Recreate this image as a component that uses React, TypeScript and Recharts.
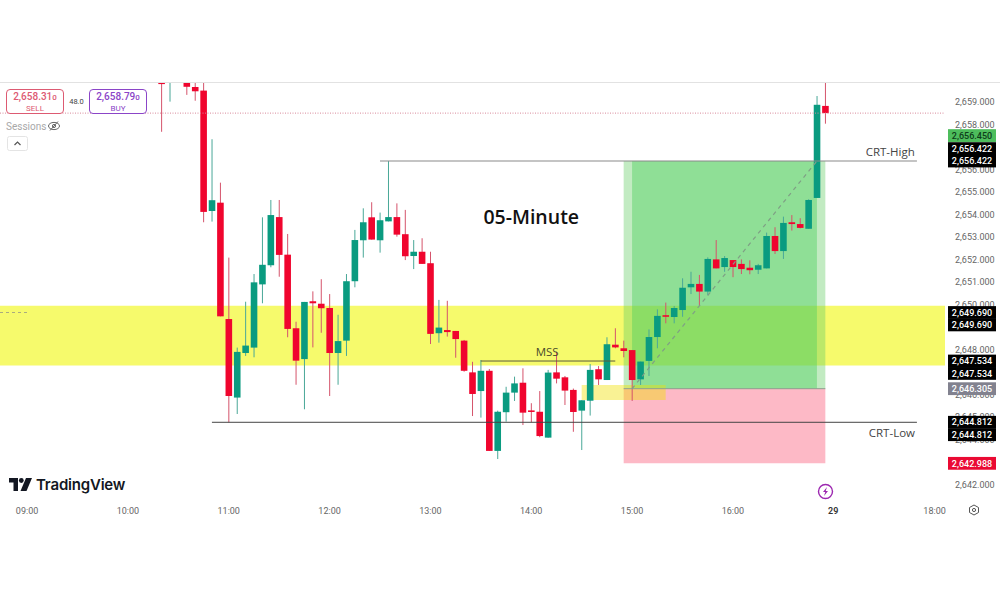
import React from "react";
import {
  ComposedChart,
  Bar,
  XAxis,
  YAxis,
  ReferenceArea,
  ReferenceLine,
  ReferenceDot,
} from "recharts";

// Candle data: time in minutes since midnight, prices in USD
const candleMinutes = [
  620, 625, 630, 635, 640, 645, 650, 655,
  660, 665, 670, 675, 680, 685, 690, 695, 700, 705,
  710, 715, 720, 725, 730, 735, 740, 745, 750, 755,
  760, 765, 770, 775, 780, 785, 790, 795, 800, 805,
  810, 815, 820, 825, 830, 835, 840, 845, 850, 855,
  860, 865, 870, 875, 880, 885, 890, 895, 900, 905,
  910, 915, 920, 925, 930, 935, 940, 945, 950, 955,
  960, 965, 970, 975, 980, 985, 990, 995, 1000, 1005,
  1010, 1015,
];
const opens = [
  2660.11, 2659.91, 2660.1, 2659.93, 2659.71, 2659.55, 2654.2, 2654.57,
  2649.4, 2645.91, 2647.89, 2648.13, 2650.94, 2651.79, 2653.93, 2652.26, 2648.99, 2647.62,
  2650.19, 2650.08, 2649.89, 2647.89, 2648.44, 2651.08, 2652.9, 2653.92, 2652.9, 2653.74,
  2653.93, 2653.17, 2652.2, 2652.39, 2651.88, 2648.77, 2648.91, 2648.87, 2648.44, 2647.03,
  2646.2, 2647.1, 2643.54, 2645.26, 2646.13, 2646.57, 2645.34, 2645.28, 2644.13, 2647.03,
  2646.81, 2646.25, 2645.33, 2645.77, 2647.17, 2646.69, 2648.26, 2648.1, 2648.02, 2646.72,
  2647.54, 2648.6, 2649.57, 2649.49, 2649.8, 2650.81, 2650.96, 2650.62, 2652.05, 2651.71,
  2652.02, 2651.85, 2651.68, 2651.59, 2651.65, 2653.09, 2652.42, 2653.7, 2653.62, 2653.41,
  2654.78, 2658.87,
];
const highs = [
  2660.24, 2660.24, 2660.5, 2660.11, 2660.11, 2660.11, 2657.39, 2655.46,
  2652.13, 2648.13, 2650.17, 2651.4, 2653.92, 2654.69, 2654.69, 2653.18, 2649.28, 2650.16,
  2650.63, 2651.17, 2650.51, 2649.59, 2651.4, 2653.36, 2654.32, 2654.59, 2654.13, 2656.42,
  2654.54, 2654.25, 2652.91, 2652.99, 2652.39, 2650.25, 2650.21, 2648.87, 2648.47, 2647.5,
  2647.58, 2647.18, 2645.33, 2646.39, 2646.84, 2647.21, 2645.66, 2646.2, 2647.14, 2647.95,
  2646.87, 2646.31, 2645.79, 2647.4, 2647.31, 2648.59, 2648.99, 2648.44, 2648.02, 2647.51,
  2648.94, 2649.83, 2650.13, 2649.98, 2651.21, 2651.5, 2651.36, 2652.14, 2652.91, 2652.2,
  2652.02, 2652.05, 2652.01, 2651.85, 2653.24, 2653.48, 2653.95, 2654.02, 2653.88, 2654.72,
  2659.31, 2660.11,
];
const lows = [
  2657.72, 2659.06, 2660.0, 2659.36, 2659.1, 2653.7, 2653.73, 2649.52,
  2644.81, 2645.18, 2647.76, 2647.7, 2650.1, 2651.7, 2651.28, 2648.59, 2646.48, 2645.39,
  2648.14, 2648.79, 2645.98, 2646.48, 2647.76, 2650.81, 2652.13, 2652.93, 2652.35, 2653.74,
  2653.06, 2652.02, 2651.62, 2651.85, 2648.29, 2648.35, 2648.62, 2647.68, 2647.06, 2645.09,
  2645.02, 2643.54, 2643.18, 2644.84, 2645.76, 2644.69, 2644.81, 2644.15, 2644.13, 2646.54,
  2645.58, 2644.39, 2643.58, 2645.11, 2646.47, 2646.69, 2648.1, 2647.7, 2645.76, 2646.47,
  2646.87, 2648.1, 2649.21, 2649.21, 2649.5, 2650.51, 2650.02, 2650.47, 2651.65, 2651.5,
  2651.26, 2651.4, 2651.39, 2651.4, 2651.65, 2652.29, 2652.07, 2653.33, 2653.43, 2653.41,
  2654.78, 2658.08,
];
const closes = [
  2659.84, 2660.07, 2660.3, 2659.72, 2659.52, 2654.16, 2654.68, 2649.52,
  2645.98, 2647.94, 2648.22, 2651.03, 2651.81, 2654.02, 2652.25, 2648.96, 2647.55, 2650.16,
  2650.1, 2649.88, 2647.89, 2648.42, 2651.08, 2652.91, 2653.7, 2652.93, 2653.79, 2653.93,
  2653.15, 2652.19, 2652.39, 2651.85, 2648.74, 2649.02, 2648.82, 2648.51, 2647.1, 2646.07,
  2647.1, 2643.54, 2645.28, 2646.13, 2646.54, 2645.24, 2645.27, 2644.2, 2647.02, 2646.75,
  2646.22, 2645.27, 2645.79, 2647.14, 2646.72, 2648.28, 2648.14, 2647.98, 2646.69, 2647.51,
  2648.6, 2649.54, 2649.5, 2649.89, 2650.79, 2650.96, 2650.62, 2652.07, 2651.65, 2652.11,
  2651.71, 2651.62, 2651.57, 2651.79, 2653.09, 2652.42, 2653.67, 2653.62, 2653.45, 2654.69,
  2658.92, 2658.55,
];

// Ticks wholly covered by a badge in the reference (2643, 2647, 2649, 2657) are left out
const priceTicks = [2642, 2644, 2645, 2646, 2648, 2650, 2651, 2652, 2653, 2654, 2655, 2656, 2658, 2659];
const timeTicks = [540, 600, 660, 720, 780, 840, 900, 960, 1020, 1080];
const timeLabels = ["09:00", "10:00", "11:00", "12:00", "13:00", "14:00", "15:00", "16:00", "29", "18:00"];

const crtHigh = 2656.422;
const crtLow = 2644.812;
const mssLevel = 2647.534;
const lastPrice = 2658.55;
const supplyTop = 2649.99;
const supplyBottom = 2647.33;
const entry = 2646.305;
const stop = 2642.988;
const smallZoneTop = 2646.47;
const smallZoneBottom = 2645.8;

// Price-scale badges: label value, real price, stack offset, colours
const badgeLabels = ["2,656.450", "2,656.422", "2,656.422", "2,649.690", "2,649.690", "2,647.534", "2,647.534", "2,646.305", "2,644.812", "2,644.812", "2,642.988"];
const badgePrices = [2656.45, 2656.422, 2656.422, 2649.69, 2649.69, 2647.534, 2647.534, 2646.305, 2644.812, 2644.812, 2642.988];
const badgeStack = [-2, -1, 0, 0, 1, 0, 1, 0, 0, 1, 0];
const badgeFills = ["#4dbd5c", "#000", "#000", "#000", "#000", "#000", "#000", "#82828f", "#000", "#000", "#ea0a33"];
const badgeInk = ["#0d3d1a", "#fff", "#fff", "#fff", "#fff", "#fff", "#fff", "#fff", "#fff", "#fff", "#fff"];

const candles = candleMinutes.map((t, i) => ({
  t,
  open: opens[i],
  high: highs[i],
  low: lows[i],
  close: closes[i],
  range: [lows[i], highs[i]],
}));

const UP = "#0a9b80";
const DOWN = "#f0052e";
const UP_WICK = "#4aa898";
const DOWN_WICK = "#d5546c";
const UI_FONT = "Roboto, sans-serif";
const X_DOMAIN: [number, number] = [523.9, 1086.2];
const Y_DOMAIN: [number, number] = [2641.492, 2659.888];

function Candle(props: any) {
  const { x, y, width, height, payload } = props;
  if (!payload || !height) return null;
  const k = height / (payload.high - payload.low);
  const up = payload.close >= payload.open;
  const topVal = Math.max(payload.open, payload.close);
  const botVal = Math.min(payload.open, payload.close);
  const bodyY = y + (payload.high - topVal) * k;
  const bodyH = Math.max((topVal - botVal) * k, 1.5);
  const cx = x + width / 2;
  return (
    <g>
      <rect x={cx - 0.5} y={y} width={1} height={height} fill={up ? UP_WICK : DOWN_WICK} />
      <rect x={x} y={bodyY} width={width} height={bodyH} fill={up ? UP : DOWN} />
    </g>
  );
}

function PriceBadge(props: any) {
  const { cx, cy, caption, stack, boxColor, inkColor } = props;
  const yc = cy + stack * 12.4;
  return (
    <g>
      <rect x={cx + 3} y={yc - 6.4} width={48} height={12.8} fill={boxColor} />
      <text
        x={cx + 27}
        y={yc + 3.2}
        textAnchor="middle"
        fontFamily={UI_FONT}
        fontSize={9}
        fontWeight={500}
        fill={inkColor}
      >
        {caption}
      </text>
    </g>
  );
}

function ChartText(props: any) {
  const { cx, cy, caption, size, weight, inkColor } = props;
  return (
    <text
      x={cx}
      y={cy}
      textAnchor="middle"
      dominantBaseline="central"
      fontFamily="'Open Sans', sans-serif"
      fontSize={size}
      fontWeight={weight}
      fill={inkColor}
    >
      {caption}
    </text>
  );
}

function TimeTick(props: any) {
  const { x, y, payload } = props;
  const label = timeLabels[timeTicks.indexOf(payload.value)];
  const isDay = label === "29";
  return (
    <text
      x={isDay ? x - 0.5 : x}
      y={y}
      textAnchor="middle"
      dominantBaseline="central"
      fontFamily={UI_FONT}
      fontSize={9}
      fontWeight={isDay ? 600 : 400}
      fill={isDay ? "#333" : "#666"}
    >
      {label}
    </text>
  );
}

function Box({ left, color, big, small, label }: any) {
  return (
    <div
      style={{
        position: "absolute",
        left,
        top: 89,
        width: 56,
        height: 23,
        border: `1px solid ${color}`,
        borderRadius: 4,
        background: "#fff",
        textAlign: "center",
        color,
        fontFamily: UI_FONT,
        lineHeight: "11px",
        boxSizing: "content-box",
      }}
    >
      <div style={{ fontSize: 10, fontWeight: 500, paddingTop: 1 }}>
        {big}
        <span style={{ fontSize: 8 }}>{small}</span>
      </div>
      <div style={{ fontSize: 8 }}>{label}</div>
    </div>
  );
}

export default function App() {
  return (
    <div style={{ position: "absolute", left: 0, top: 0, width: 1000, height: 600, background: "#fff", overflow: "hidden" }}>
      <div style={{ position: "absolute", left: 0, top: 82, width: 1000, height: 1, background: "#e2e2e2" }} />
      <ComposedChart
        width={1000}
        height={600}
        data={candles}
        margin={{ top: 83, right: 0, bottom: 0, left: 0 }}
        barSize={6.6}
      >
        <XAxis
          dataKey="t"
          type="number"
          domain={X_DOMAIN}
          allowDataOverflow
          ticks={timeTicks}
          axisLine={false}
          tickLine={false}
          height={103}
          interval={0}
          tick={<TimeTick />}
          tickMargin={8}
        />
        <YAxis
          orientation="right"
          type="number"
          domain={Y_DOMAIN}
          allowDataOverflow
          ticks={priceTicks}
          interval={0}
          axisLine={false}
          tickLine={false}
          width={55}
          tickMargin={4}
          tick={{ fontSize: 9, fontFamily: UI_FONT, fill: "#666", dy: -1 }}
          tickFormatter={(v: number) =>
            v.toLocaleString("en-US", { minimumFractionDigits: 3, maximumFractionDigits: 3 })
          }
        />
        <ReferenceArea x1={X_DOMAIN[0]} x2={X_DOMAIN[1]} y1={supplyBottom} y2={supplyTop} fill="#f6fa6c" fillOpacity={1} stroke="none" />
        <ReferenceArea x1={895} x2={1015} y1={stop} y2={entry} fill="#fdb9c6" fillOpacity={1} stroke="none" />
        <ReferenceArea x1={895} x2={1015} y1={entry} y2={crtHigh} fill="#66cc66" fillOpacity={0.4} stroke="none" />
        <ReferenceArea x1={900} x2={1010} y1={entry} y2={crtHigh} fill="#50d060" fillOpacity={0.447} stroke="none" />
        <ReferenceArea x1={870} x2={920} y1={smallZoneBottom} y2={smallZoneTop} fill="#f0e000" fillOpacity={0.42} stroke="none" />

        <ReferenceLine
          segment={[{ x: X_DOMAIN[0], y: lastPrice }, { x: X_DOMAIN[1], y: lastPrice }]}
          stroke="#d98a9a"
          strokeDasharray="1 1.5"
          strokeWidth={1}
        />
        <ReferenceLine
          segment={[{ x: X_DOMAIN[0], y: 2649.69 }, { x: 540, y: 2649.69 }]}
          stroke="#888"
          strokeDasharray="3 3"
          strokeWidth={0.7}
        />
        <ReferenceLine
          segment={[{ x: 750, y: crtHigh }, { x: 1069.5, y: crtHigh }]}
          stroke="#8a8a8a"
          strokeWidth={1.2}
        />
        <ReferenceLine
          segment={[{ x: 650, y: crtLow }, { x: 1069.5, y: crtLow }]}
          stroke="#444"
          strokeWidth={1}
        />
        <ReferenceLine
          segment={[{ x: 895, y: entry }, { x: 1015, y: entry }]}
          stroke="#8f9f8f"
          strokeWidth={1}
        />
        <ReferenceLine
          segment={[{ x: 810, y: mssLevel }, { x: 890, y: mssLevel }]}
          stroke="#5a5a3c"
          strokeWidth={1}
        />
        <ReferenceLine
          segment={[{ x: 900, y: entry }, { x: 1010, y: crtHigh }]}
          stroke="#7f9f85"
          strokeDasharray="4 4"
          strokeWidth={1.2}
        />

        <Bar dataKey="range" shape={<Candle />} isAnimationActive={false} />

        <ReferenceDot x={840} y={2653.96} r={0} ifOverflow="visible" shape={<ChartText caption="05-Minute" size={19.5} weight={600} inkColor="#111" />} />
        <ReferenceDot x={849.5} y={2647.95} r={0} ifOverflow="visible" shape={<ChartText caption="MSS" size={11.5} weight={400} inkColor="#4a4a2a" />} />
        <ReferenceDot x={1053.6} y={2656.85} r={0} ifOverflow="visible" shape={<ChartText caption="CRT-High" size={11.5} weight={400} inkColor="#444" />} />
        <ReferenceDot x={1054.6} y={2644.37} r={0} ifOverflow="visible" shape={<ChartText caption="CRT-Low" size={11.5} weight={400} inkColor="#444" />} />
      </ComposedChart>

      {/* Price-scale badges sit in a transparent chart on top, so that they cover the axis labels */}
      <div style={{ position: "absolute", left: 0, top: 0 }}>
        <ComposedChart
          width={1000}
          height={600}
          data={candles}
          margin={{ top: 83, right: 55, bottom: 103, left: 0 }}
        >
          <XAxis dataKey="t" type="number" domain={X_DOMAIN} allowDataOverflow hide />
          <YAxis type="number" domain={Y_DOMAIN} allowDataOverflow hide />
          {badgeLabels.map((caption, i) => (
            <ReferenceDot
              key={i}
              x={X_DOMAIN[1]}
              y={badgePrices[i]}
              r={0}
              ifOverflow="visible"
              shape={<PriceBadge caption={caption} stack={badgeStack[i]} boxColor={badgeFills[i]} inkColor={badgeInk[i]} />}
            />
          ))}
        </ComposedChart>
      </div>

      <Box left={6} color="#dd5a72" big="2,658.31" small="0" label="SELL" />
      <Box left={89} color="#8b45c8" big="2,658.79" small="0" label="BUY" />
      <div style={{ position: "absolute", left: 64, width: 25, top: 97, textAlign: "center", fontFamily: UI_FONT, fontSize: 7.5, color: "#444" }}>48.0</div>
      <div style={{ position: "absolute", left: 6, top: 121, fontFamily: UI_FONT, fontSize: 10, color: "#a8a8a8" }}>Sessions</div>
      <svg style={{ position: "absolute", left: 47, top: 120 }} width={14} height={12} viewBox="0 0 14 12">
        <ellipse cx={7} cy={6} rx={5.5} ry={3.6} fill="none" stroke="#666" strokeWidth={1} />
        <circle cx={7} cy={6} r={1.6} fill="none" stroke="#666" strokeWidth={1} />
        <line x1={3} y1={10.5} x2={11} y2={1.5} stroke="#666" strokeWidth={1} />
      </svg>
      <svg style={{ position: "absolute", left: 7, top: 136 }} width={21} height={15} viewBox="0 0 21 15">
        <rect x={0.5} y={0.5} width={20} height={14} rx={2} fill="#fff" stroke="#e4e4e4" />
        <path d="M7.5 9 L10.5 6 L13.5 9" fill="none" stroke="#555" strokeWidth={1.2} />
      </svg>

      <svg style={{ position: "absolute", left: 9, top: 478 }} width={24} height={14} viewBox="0 0 24 14">
        <path d="M0 0 H9 V13 H4.5 V4.5 H0 Z" fill="#131722" />
        <circle cx={12.3} cy={2.5} r={2.4} fill="#131722" />
        <path d="M17 0 H23 L17.5 13 H11.5 Z" fill="#131722" />
      </svg>
      <div style={{ position: "absolute", left: 36, top: 475, fontFamily: "Inter, sans-serif", fontWeight: 600, fontSize: 15, color: "#131722", lineHeight: "20px", letterSpacing: -0.2 }}>TradingView</div>

      <svg style={{ position: "absolute", left: 817, top: 483 }} width={17} height={17} viewBox="0 0 17 17">
        <circle cx={8.5} cy={8.5} r={7} fill="#fff" stroke="#9c27b0" strokeWidth={1.4} />
        <path d="M10 4 L6 9 H8.3 L7 13 L11 8 H8.7 Z" fill="#9c27b0" />
      </svg>
      <svg style={{ position: "absolute", left: 968, top: 504 }} width={12} height={12} viewBox="0 0 12 12">
        <path d="M6 1 L10.5 3.5 V8.5 L6 11 L1.5 8.5 V3.5 Z" fill="none" stroke="#555" strokeWidth={1} />
        <circle cx={6} cy={6} r={1.6} fill="none" stroke="#555" strokeWidth={1} />
      </svg>
    </div>
  );
}
